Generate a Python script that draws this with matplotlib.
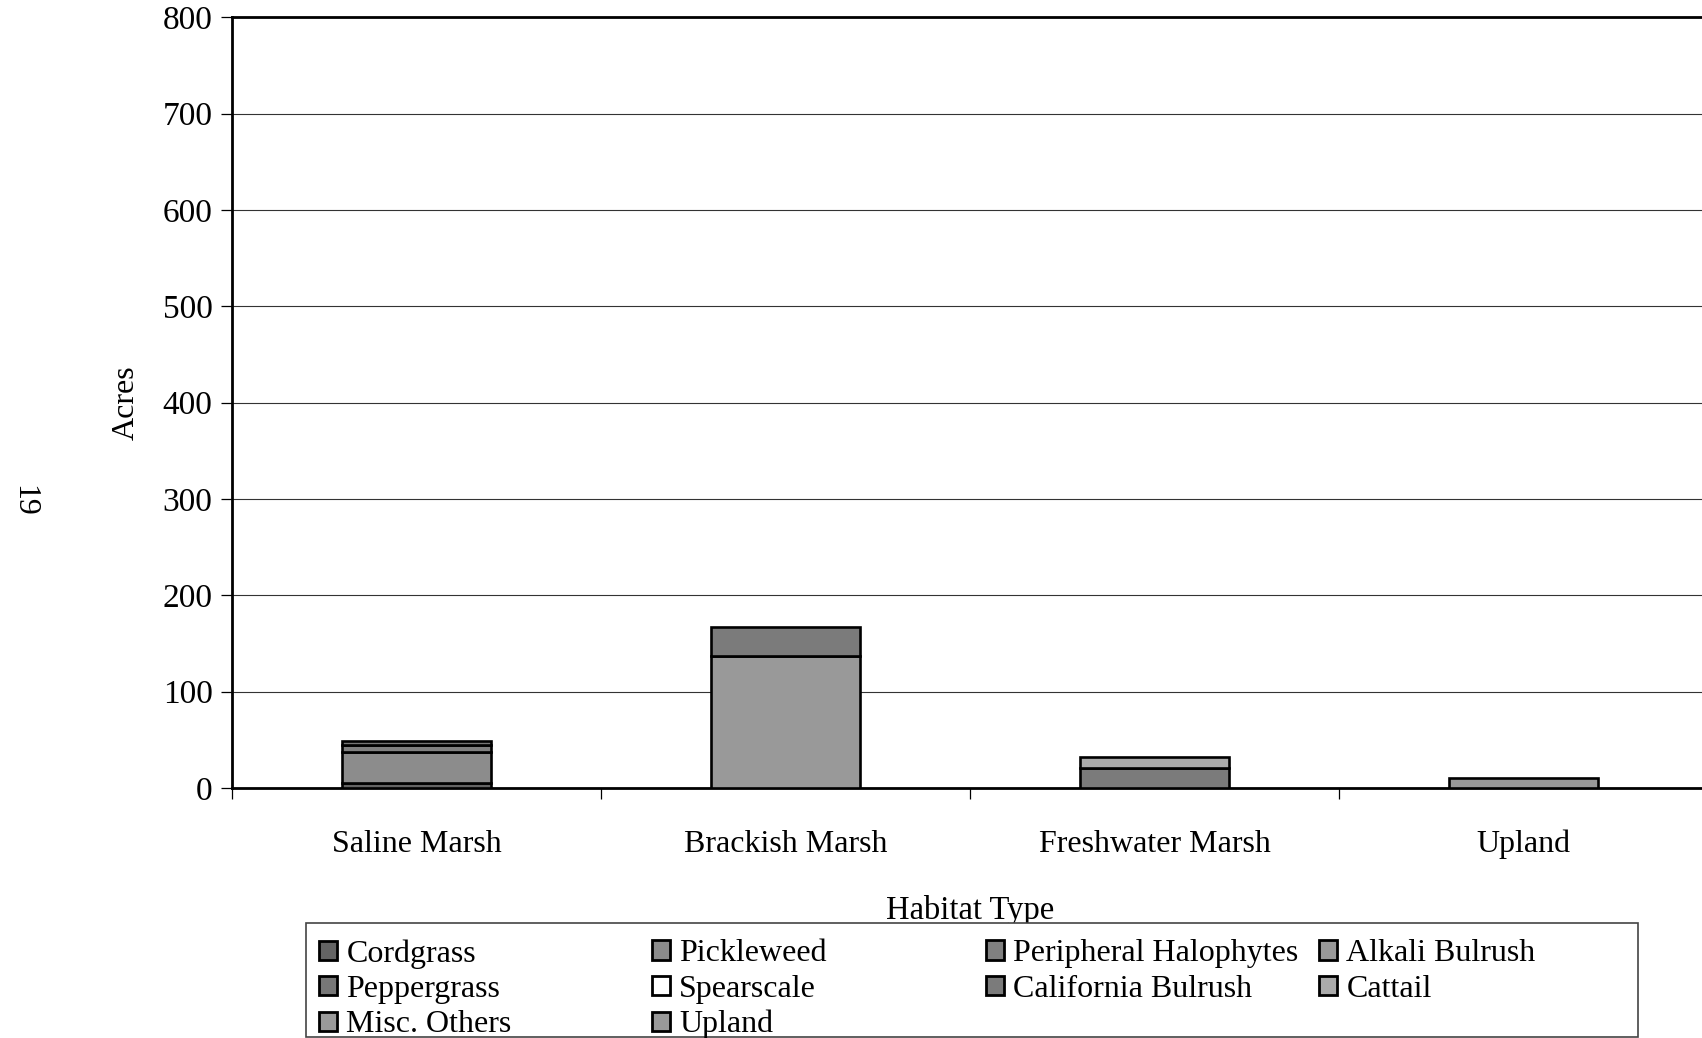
import matplotlib
matplotlib.use("Agg")
import matplotlib.pyplot as plt
from matplotlib.patches import Rectangle
import numpy as np

plt.rcParams['font.family'] = ['Liberation Serif', 'DejaVu Serif']

categories = ["Saline Marsh", "Brackish Marsh", "Freshwater Marsh", "Upland"]

species = ["Cordgrass", "Pickleweed", "Peripheral Halophytes", "Alkali Bulrush",
           "Peppergrass", "Spearscale", "California Bulrush", "Cattail",
           "Misc. Others", "Upland"]

cordgrass = [5.5, 0, 0, 0]
pickleweed = [31.5, 0, 0, 0]
peripheral_halophytes = [7.5, 0, 0, 0]
alkali_bulrush = [0, 137, 0, 0]
peppergrass = [4, 0, 0, 0]
spearscale = [0, 0, 0, 0]
california_bulrush = [0, 30, 20.5, 0]
cattail = [0, 0, 11.5, 0]
misc_others = [0, 0, 0, 0]
upland = [0, 0, 0, 10.7]

series = [cordgrass, pickleweed, peripheral_halophytes, alkali_bulrush,
          peppergrass, spearscale, california_bulrush, cattail,
          misc_others, upland]

colors = ["#646464", "#8c8c8c", "#808080", "#999999",
          "#777777", "#ffffff", "#7b7b7b", "#aaaaaa",
          "#9a9a9a", "#999999"]

yticks = [0, 100, 200, 300, 400, 500, 600, 700, 800]

W, H = 1702, 1038
fig = plt.figure(figsize=(W / 100, H / 100), dpi=100)
ax = fig.add_axes([232 / W, 1 - 788 / H, (1708 - 232) / W, (788 - 17.4) / H])

x = np.arange(len(categories))
bottom = np.zeros(len(categories))
handles = []
for name, vals, col in zip(species, series, colors):
    vals = np.asarray(vals, dtype=float)
    idx = np.nonzero(vals)[0]
    ax.bar(x[idx], vals[idx], bottom=bottom[idx], width=0.405,
           color=col, edgecolor="black", linewidth=1.9, zorder=3)
    bottom += vals
    handles.append(Rectangle((0, 0), 1, 1, facecolor=col, edgecolor="black",
                             linewidth=2.0, joinstyle="round"))

ax.set_xlim(-0.5, 3.5)
ax.set_ylim(0, 800)
ax.set_yticks(yticks)
ax.set_yticklabels([str(v) for v in yticks], fontsize=24)
ax.yaxis.grid(True, color="#333333", linewidth=0.8, zorder=0)
ax.set_axisbelow(True)

ax.set_xticks(x)
ax.set_xticklabels(categories, fontsize=23)
ax.set_xticks(np.arange(-0.5, 4.0, 1.0), minor=True)
ax.tick_params(axis="x", which="major", length=0, pad=30)
ax.tick_params(axis="x", which="minor", length=8, width=0.9, direction="out")
ax.tick_params(axis="y", length=8, width=0.9, direction="out", pad=6)

for side in ["left", "bottom", "top"]:
    ax.spines[side].set_linewidth(2.0)
ax.spines["right"].set_visible(False)

ax.set_ylabel("Acres", fontsize=23, labelpad=16)
ax.set_xlabel("Habitat Type", fontsize=23.5, labelpad=26)

# Legend: framed box with four columns laid out row by row
fig.add_artist(Rectangle((306 / W, 1 - 1037 / H), (1638 - 306) / W, (1037 - 923) / H,
                         transform=fig.transFigure, facecolor="white",
                         edgecolor="#444444", linewidth=1.2, zorder=1))
ncol = 4
col_x = [316, 649, 983, 1316]
for c in range(ncol):
    hs = handles[c::ncol]
    ls = species[c::ncol]
    leg = fig.legend(hs, ls, loc="upper left",
                     bbox_to_anchor=(col_x[c] / W, 1 - 936 / H),
                     frameon=False, fontsize=23, handlelength=0.55,
                     handleheight=0.55, handletextpad=0.3,
                     labelspacing=0.2, borderpad=0.1, borderaxespad=0)
    leg.set_zorder(2)

fig.text(24 / W, 1 - 501 / H, "19", fontsize=23, rotation=-90,
         ha="center", va="center")

fig.savefig("out.png", dpi=100)
